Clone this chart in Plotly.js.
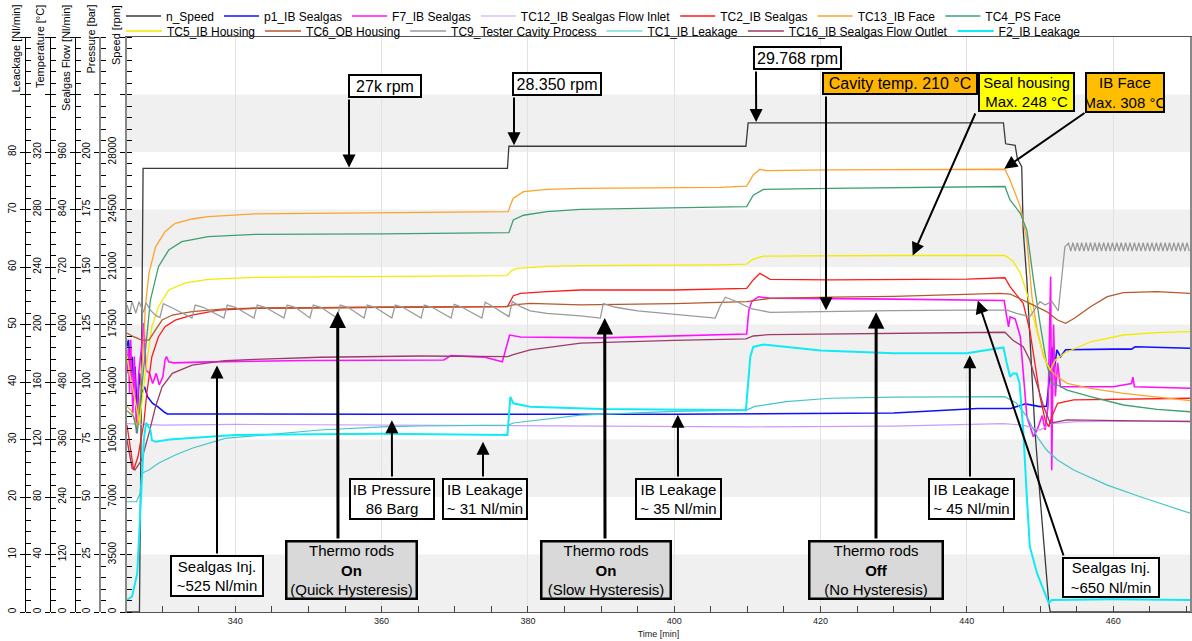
<!DOCTYPE html>
<html>
<head>
<meta charset="utf-8">
<script src="https://cdn.plot.ly/plotly-3.0.1.min.js"></script>
<style>
  html, body { margin: 0; padding: 0; background: #fff; }
  #chart { width: 1192px; height: 641px; }
</style>
</head>
<body>
<div id="chart"></div>
<script>
// ---------- measured series (time in min) ----------
const speedTime = [325.2, 326.9, 327.1, 327.4, 377.2, 377.4, 409.8, 410.1, 445.0, 445.3, 446.6, 446.9, 447.5, 447.7, 448.2, 448.65, 449.3, 450.0, 450.7, 451.2, 451.4, 470.5];
const speedRpm  = [0, 0, 10000, 27000, 27000, 28350, 28350, 29768, 29768, 28500, 28400, 27600, 27100, 23250, 20200, 16150, 11080, 7020, 2960, 530, 0, 0];

const p1Time = [325.2, 325.4, 325.55, 325.7, 325.9, 326.1, 326.3, 326.6, 326.9, 327.2, 327.6, 328.0, 328.7, 329.4, 330.2, 330.7, 360, 400, 430, 441.5, 446, 448, 450, 450.9, 451.3, 451.6, 451.9, 452.3, 452.8, 453.5, 460, 462.5, 463, 470.5];
const p1Bar  = [115.4, 118.3, 112.5, 103.8, 111, 100.9, 106.7, 84.9, 103.8, 95.1, 98, 93.6, 90.7, 89.3, 87.1, 86.1, 86, 86, 86.5, 88.5, 88.5, 90.5, 89.3, 89.5, 102, 115.3, 104, 114, 111, 114, 114.3, 114.3, 115.3, 114.7];

const f7Time = [325.2, 325.4, 325.55, 325.7, 326.0, 326.2, 326.5, 326.8, 327.2, 327.5, 327.8, 328.3, 328.7, 329.2, 329.6, 330.1, 330.4, 330.6, 330.9, 331.6, 336.3, 350, 368.5, 369.5, 374, 376.5, 377.5, 379, 390, 405, 409.9, 410.2, 410.6, 411.5, 413, 430, 445.1, 445.45, 445.7, 445.9, 446.6, 447.3, 447.7, 448.2, 449.1, 449.6, 450.3, 450.7, 451.1, 451.45, 451.6, 451.85, 452.1, 452.4, 452.8, 460, 462.5, 462.7, 462.9, 470.5];
const f7Flow = [498, 554, 456, 568, 415, 533, 373, 498, 554, 603, 505, 498, 477, 498, 474, 491, 526, 533, 522, 520, 522, 525, 526, 535, 532, 522, 578, 574, 572, 578, 580, 630, 648, 658, 655, 653, 650, 616, 595, 616, 612, 575, 505, 408, 366, 380, 410, 380, 430, 700, 296, 600, 450, 520, 470, 470, 477, 490, 470, 467];

const tc12Time = [325.2, 330, 340, 360, 377, 390, 410, 430, 445, 447.7, 450, 451.5, 455, 470.5];
const tc12Temp = [131, 130, 130.5, 130, 129.5, 129, 128.8, 129.3, 131, 130, 126.6, 131, 132.4, 133];

const tc2Time = [325.2, 325.9, 326.1, 326.7, 327.5, 327.9, 328.6, 329.5, 330.4, 331.8, 334.1, 337.7, 342.7, 360, 377.2, 378, 379, 382.6, 387.2, 400, 409.9, 410.8, 411.7, 413.1, 421.3, 440, 445.2, 445.9, 447.7, 448.6, 449.3, 450, 450.7, 451.2, 451.6, 452.4, 454.6, 470.5];
const tc2Temp = [130, 105.7, 98.8, 108, 131.3, 152, 177.6, 191.5, 198.5, 203, 206.6, 210, 211.3, 212, 212.4, 220, 221.7, 222.8, 224, 224, 225.2, 231, 235.6, 231.4, 231, 231.5, 232.5, 226.3, 214.7, 196, 173, 149.8, 133.6, 128.9, 135.9, 145.2, 147.5, 148.7];

const tc13Time = [325.2, 325.8, 326.6, 327.0, 327.5, 327.7, 328.2, 329.1, 330.4, 331.8, 334.1, 336.3, 342.7, 360, 377.3, 377.6, 378, 379.4, 382.6, 387.2, 406.3, 409.9, 410.8, 411.7, 412.6, 421.3, 440, 445.2, 445.9, 447.3, 448.2, 448.9, 449.6, 450.5, 451.4, 452.4, 453.7, 456.9, 461.4, 470.5];
const tc13Temp = [143, 140, 129, 152, 189, 212, 235.6, 254, 264.6, 270.4, 273.4, 275, 276.9, 277.6, 278.5, 283, 287.8, 292.4, 294, 294.7, 295.4, 296.3, 304, 308, 307, 307.5, 308, 308, 300.5, 282, 258.8, 219.3, 196, 177.6, 168.3, 163.7, 159, 155.6, 152.1, 147];

const tc4Time = [325.2, 326.1, 326.6, 327.7, 328.4, 329.5, 330.9, 332.7, 336.3, 342.7, 360, 377.4, 378, 379.4, 382.6, 387.2, 406.3, 409.9, 410.8, 412.2, 421.3, 440, 445.2, 445.9, 447.3, 448.2, 449.1, 450, 450.9, 451.6, 452.4, 453.7, 456.9, 461.4, 466, 470.5];
const tc4Temp = [140, 135.9, 124.3, 180, 217, 240.2, 251.8, 257.6, 261.1, 262.7, 263, 263.9, 272.7, 276, 278.5, 280.1, 281.5, 282, 290, 294, 294.7, 295.5, 296, 286.6, 277.4, 265.7, 231, 200.8, 173, 159, 157.9, 154.4, 149.8, 144, 141, 139.3];

const tc5Time = [325.2, 325.6, 326.2, 326.9, 327.7, 328.6, 329.5, 330.9, 333.2, 336.3, 342.7, 360, 377.1, 377.8, 378.5, 382.6, 387.2, 406.3, 409.9, 410.8, 412.2, 430, 445.2, 446.3, 447.3, 448.2, 449.1, 450, 450.9, 451.4, 452.1, 453.3, 456.9, 461.4, 466, 470.5];
const tc5Temp = [178, 165, 150, 131, 166, 198.5, 212.4, 224, 229, 231.4, 232.8, 233.4, 234, 237.5, 239, 240.5, 241, 241.5, 242, 245.5, 247.5, 248, 248, 244, 236, 222, 205, 187, 173, 168.3, 175.3, 180, 188, 192.7, 194.3, 195];

const tc6Time = [325.2, 326.1, 327.2, 328.2, 329.1, 330, 331.4, 334.1, 338.6, 342.7, 360, 377, 378, 380.3, 387.2, 400, 409.9, 413.1, 421.3, 430, 444.5, 445.9, 448.6, 450.9, 452.4, 453.5, 454.7, 456.9, 459.2, 461.4, 466, 470.5];
const tc6Temp = [194, 191.5, 189.2, 189.2, 196.2, 203.1, 206.6, 209, 210.8, 211.3, 212, 212.4, 213.6, 214.7, 213.6, 214.5, 215.9, 218.2, 219, 219.5, 221.7, 221.2, 214.7, 209, 203.1, 200.8, 204.3, 212.4, 219.4, 222.2, 222.8, 221.7];

const tc9Time = [325.2, 325.55, 325.9, 326.4, 326.85, 327.45, 327.8, 328.4, 329.2, 329.7,
  330.16, 331.2, 334.08, 334.53, 335.6, 338.45, 338.9, 340.0, 342.55, 343.0, 344.1, 346.65, 347.1, 348.2,
  350.2, 350.66, 351.7, 353.9, 354.35, 355.4, 357.6, 358.04, 359.1, 361.4, 361.87, 362.9, 365.4, 365.83, 366.9,
  369.5, 369.93, 371.0, 373.7, 374.17, 375.2, 377.4, 377.86, 379.0, 380.3, 382.6, 387.2, 389.9, 390.3, 392.0,
  395.0, 400.0, 405.6, 406.3, 407.0, 408.5, 410.5, 413.1, 421.3, 430.0, 440.0, 445.5, 446.8, 448.6, 450.0,
  450.7, 451.6, 452.5, 453.4, 453.9,
  454.2, 454.5, 454.8, 455.1, 455.4, 455.7, 456.0, 456.3, 456.6, 456.9, 457.2, 457.5, 457.8, 458.1, 458.4,
  458.7, 459.0, 459.3, 459.6, 459.9, 460.2, 460.5, 460.8, 461.1, 461.4, 461.7, 462.0, 462.3, 462.6, 462.9,
  463.2, 463.5, 463.8, 464.1, 464.4, 464.7, 465.0, 465.3, 465.6, 465.9, 466.2, 466.5, 466.8, 467.1, 467.4,
  467.7, 468.0, 468.3, 468.6, 468.9, 469.2, 469.5, 469.8, 470.1, 470.4];
const tc9Temp = [213.6, 207.8, 215.9, 207.8, 215.9, 208.5, 215.0, 210.0, 206.0, 205.0,
  214.5, 212, 204.5, 213.5, 212, 204.5, 213.5, 212, 204.5, 213.5, 212, 204.5, 213.5, 212,
  204.5, 213.5, 212, 204.5, 213.5, 212, 204.5, 213.5, 212, 204.5, 213.5, 212, 204.5, 213.5, 212,
  204.5, 214, 212, 204.5, 215.5, 212.5, 205.5, 215.9, 212.4, 209.5, 207.8, 206, 204.5, 214.5, 212,
  209.5, 207, 204.5, 213, 219, 216, 211, 208.5, 209.2, 209.6, 210, 210, 207.8, 205.4, 215.9,
  213.6, 216.3, 209.4, 254.1, 256.5,
  251, 257, 251, 257, 251, 257, 251, 257, 251, 257, 251, 257, 251, 257, 251,
  257, 251, 257, 251, 257, 251, 257, 251, 257, 251, 257, 251, 257, 251, 257,
  251, 257, 251, 257, 251, 257, 251, 257, 251, 257, 251, 257, 251, 257, 251,
  257, 251, 257, 251, 257, 251, 257, 251, 257, 251];

const tc1Time = [325.2, 326.5, 327.0, 327.2, 328.2, 329.5, 331.8, 334.1, 338.6, 342.7, 351.6, 360.7, 365.3, 377.3, 378, 387.2, 400, 409.9, 411, 415.3, 421.3, 430, 445.2, 446.8, 448.2, 449.6, 450.9, 452.4, 454.6, 459.2, 463.7, 470.5];
const tc1Temp = [76.7, 76.7, 82.6, 96.5, 98.8, 103.5, 109.2, 113.9, 120.8, 122.5, 126.6, 128.9, 129.4, 130, 131.5, 137, 139.5, 140.5, 143, 146.3, 148.7, 149.5, 149.8, 145.2, 135.9, 122, 112.7, 105.7, 98.8, 88.3, 80.2, 68.7];

const tc16Time = [325.2, 325.9, 326.3, 327.2, 328.2, 329.1, 330, 331.4, 334.1, 338.6, 342.7, 351.6, 365.3, 377.2, 378, 380.3, 387.2, 400, 409.8, 410.8, 413, 430, 445.2, 446.3, 447.7, 448.6, 449.6, 450.5, 451.4, 452.4, 453.7, 470.5];
const tc16Temp = [119.7, 100, 98.8, 105.7, 124.3, 142.8, 156.7, 166, 171.8, 174.8, 175.8, 177.2, 178.1, 177.6, 179, 182.3, 187, 189, 190, 192, 193, 193.9, 194.6, 189, 184.6, 175.3, 159, 142.8, 131.3, 132.4, 133.6, 132.4];

const f2Time = [325.2, 325.9, 326.6, 327.0, 327.5, 327.8, 328.4, 328.6, 329.1, 331, 340, 360, 377.2, 377.6, 378, 380.3, 390, 409.8, 410.4, 410.8, 412.2, 420, 430, 440, 445.0, 445.45, 445.9, 446.3, 446.8, 447.2, 447.7, 448.2, 448.6, 449.6, 450.5, 451.2, 451.6, 460, 470.5];
const f2Leak = [2.1, 2.7, 6.7, 18.3, 29.9, 32.9, 31.7, 29.9, 29.6, 30, 30.8, 31, 30.8, 37.4, 36.3, 35.7, 35.3, 35.1, 44.4, 46.1, 46.5, 45.5, 45, 45, 46, 43.3, 40.9, 41.5, 41.5, 39.8, 31.7, 20, 11.4, 6.7, 3.8, 1.5, 2.1, 2.2, 2.1];

// ---------- axis ticks ----------
const timeTicks = [340, 360, 380, 400, 420, 440, 460];
const speedTicks = [0, 3500, 7000, 10500, 14000, 17500, 21000, 24500, 28000, 31500, 35000];
const speedLabels = ['0', '3500', '7000', '10500', '14000', '17500', '21000', '24500', '28000', '', ''];
const pressureTicks = [0, 25, 50, 75, 100, 125, 150, 175, 200, 225, 250];
const pressureLabels = ['0', '25', '50', '75', '100', '125', '150', '175', '200', '', ''];
const flowTicks = [0, 120, 240, 360, 480, 600, 720, 840, 960, 1080, 1200];
const flowLabels = ['0', '120', '240', '360', '480', '600', '720', '840', '960', '', ''];
const tempTicks = [0, 40, 80, 120, 160, 200, 240, 280, 320, 360, 400];
const tempLabels = ['0', '40', '80', '120', '160', '200', '240', '280', '320', '', ''];
const leakTicks = [0, 10, 20, 30, 40, 50, 60, 70, 80, 90, 100];
const leakLabels = ['0', '10', '20', '30', '40', '50', '60', '70', '80', '', ''];

// ---------- geometry ----------
const W = 1192, H = 641;
const margin = { l: 0, r: 2, t: 37, b: 29 };
const plotW = W - margin.l - margin.r;       // 1190
const plotH = H - margin.t - margin.b;       // 575
const left = 127;                            // x pixel of the plotting area start
const xRange = [325.2, 470.5];
const pxX = p => p / plotW;
const pxY = p => 1 - (p - margin.t) / plotH;

const axisMax = { y: 35000, y2: 250, y3: 1200, y4: 400, y5: 100 };

// ---------- traces ----------
const series = [
  { name: 'n_Speed', x: speedTime, y: speedRpm, axis: 'y', color: '#3a3a3a', width: 1.3, legend: 'legend' },
  { name: 'p1_IB Sealgas', x: p1Time, y: p1Bar, axis: 'y2', color: '#1010ff', width: 1.6, legend: 'legend' },
  { name: 'F7_IB Sealgas', x: f7Time, y: f7Flow, axis: 'y3', color: '#ff10ff', width: 1.6, legend: 'legend' },
  { name: 'TC12_IB Sealgas Flow Inlet', x: tc12Time, y: tc12Temp, axis: 'y4', color: '#c99cff', width: 1.2, legend: 'legend' },
  { name: 'TC2_IB Sealgas', x: tc2Time, y: tc2Temp, axis: 'y4', color: '#ff1a1a', width: 1.3, legend: 'legend' },
  { name: 'TC13_IB Face', x: tc13Time, y: tc13Temp, axis: 'y4', color: '#ffa22a', width: 1.3, legend: 'legend' },
  { name: 'TC4_PS Face', x: tc4Time, y: tc4Temp, axis: 'y4', color: '#3f9f72', width: 1.3, legend: 'legend' },
  { name: 'TC5_IB Housing', x: tc5Time, y: tc5Temp, axis: 'y4', color: '#f2ea00', width: 1.3, legend: 'legend2' },
  { name: 'TC6_OB Housing', x: tc6Time, y: tc6Temp, axis: 'y4', color: '#b5592c', width: 1.3, legend: 'legend2' },
  { name: 'TC9_Tester Cavity Process', x: tc9Time, y: tc9Temp, axis: 'y4', color: '#9a9a9a', width: 1.3, legend: 'legend2' },
  { name: 'TC1_IB Leakage', x: tc1Time, y: tc1Temp, axis: 'y4', color: '#45c6c6', width: 1.2, legend: 'legend2' },
  { name: 'TC16_IB Sealgas Flow Outlet', x: tc16Time, y: tc16Temp, axis: 'y4', color: '#9b3b68', width: 1.3, legend: 'legend2' },
  { name: 'F2_IB Leakage', x: f2Time, y: f2Leak, axis: 'y5', color: '#10eaf5', width: 2.0, legend: 'legend2' }
];

const traces = series.map(s => ({
  type: 'scatter', mode: 'lines', name: s.name, x: s.x, y: s.y, yaxis: s.axis,
  line: { color: s.color, width: s.width }, legend: s.legend, hoverinfo: 'skip'
}));

// ---------- annotations ----------
const boxFont = { family: 'Liberation Sans, Arial, sans-serif', size: 16, color: '#000' };
const rodFont = { family: 'Liberation Sans, Arial, sans-serif', size: 15, color: '#000' };

function box(text, l, t, r, b, bg, bw, font) {
  return {
    xref: 'paper', yref: 'paper', x: pxX(l), y: pxY(t), xanchor: 'left', yanchor: 'top',
    text: text, showarrow: false, bgcolor: bg, bordercolor: '#000', borderwidth: bw, borderpad: 0,
    width: r - l - 2 * bw, height: b - t - 2 * bw, font: font || boxFont, align: 'center', valign: 'middle'
  };
}

function pointer(t, v, axis, tailX, tailY, w, standoff) {
  const tipX = left + (t - xRange[0]) / (xRange[1] - xRange[0]) * (plotW - left);
  const tipY = margin.t + plotH - v / axisMax[axis] * plotH;
  return {
    xref: 'x', yref: axis, x: t, y: v, ax: tailX - tipX, ay: tailY - tipY, text: '',
    showarrow: true, arrowhead: 2, arrowsize: w > 2 ? 1.1 : 1.3, arrowwidth: w, arrowcolor: '#000',
    standoff: standoff || 0
  };
}

const titleFont = { family: 'Liberation Sans, Arial, sans-serif', size: 11, color: '#000' };
function axisTitle(text, x) {
  return { xref: 'paper', yref: 'paper', x: pxX(x), y: pxY(3), xanchor: 'center', yanchor: 'top',
    textangle: -90, text: text, showarrow: false, font: titleFont };
}

const annotations = [
  axisTitle('Leackage [Nl/min]', 15.5),
  axisTitle('Temperature [°C]', 40.5),
  axisTitle('Sealgas Flow [Nl/min]', 66),
  axisTitle('Pressure [bar]', 91),
  axisTitle('Speed [rpm]', 116),

  pointer(355.55, 27000, 'y', 349, 98, 2, 1),
  box('27k rpm', 348, 74, 422, 98, '#fff', 2),
  pointer(378.1, 28350, 'y', 514, 96, 2, 1),
  box('28.350 rpm', 512, 72, 602, 96, '#fff', 2),
  pointer(411.2, 29768, 'y', 756, 70, 2, 1),
  box('29.768 rpm', 753, 46, 842, 70, '#fff', 2),
  pointer(420.75, 210, 'y4', 826, 95, 2, 0),
  box('Cavity temp. 210 °C', 822, 72, 978, 95, '#ffb400', 2),
  pointer(432.6, 248, 'y4', 976, 112, 2, 0),
  box('Seal housing<br>Max. 248 °C', 978, 72, 1075, 112, '#ffff00', 2, rodFont),
  pointer(445.0, 308, 'y4', 1086, 112, 2, 1),
  box('IB Face<br>Max. 308 °C', 1085, 72, 1165, 113, '#ffbf00', 2, rodFont),

  pointer(361.4, 86, 'y2', 392, 478, 2, 6),
  box('IB Pressure<br>86 Barg', 349, 478, 435, 520, '#fff', 2, rodFont),
  pointer(373.86, 31, 'y5', 483, 478, 2, 8),
  box('IB Leakage<br>~ 31 Nl/min', 442, 478, 528, 520, '#fff', 2, rodFont),
  pointer(400.5, 35, 'y5', 678, 478, 2, 4),
  box('IB Leakage<br>~ 35 Nl/min', 635, 478, 722, 520, '#fff', 2, rodFont),
  pointer(440.4, 45, 'y5', 970, 478, 2, 2),
  box('IB Leakage<br>~ 45 Nl/min', 928, 478, 1015, 520, '#fff', 2, rodFont),
  pointer(337.5, 525, 'y3', 217, 555, 2, 5),
  box('Sealgas Inj.<br>~525 Nl/min', 170, 555, 264, 597, '#fff', 2, rodFont),

  pointer(354.0, 209, 'y4', 338, 540, 3, 0),
  box('Thermo rods<br><b>On</b><br>(Quick Hysteresis)', 285, 540, 418, 600, '#d9d9d9', 2.5, rodFont),
  pointer(390.5, 204.5, 'y4', 605, 540, 3, 0),
  box('Thermo rods<br><b>On</b><br>(Slow Hysteresis)', 540, 540, 672, 600, '#d9d9d9', 2.5, rodFont),
  pointer(427.6, 210, 'y4', 876, 540, 3, 2),
  box('Thermo rods<br><b>Off</b><br>(No Hysteresis)', 808, 540, 944, 600, '#d9d9d9', 2.5, rodFont),
  pointer(441.5, 650, 'y3', 1064, 557, 2, 0),
  box('Sealgas Inj.<br>~650 Nl/min', 1062, 557, 1160, 598, '#fff', 2, rodFont)
];

// ---------- background bands (alternating speed decades) ----------
const shapes = [];
for (let i = 0; i + 1 < speedTicks.length; i += 2) {
  shapes.push({ type: 'rect', xref: 'x domain', yref: 'y', x0: 0, x1: 1,
    y0: speedTicks[i], y1: speedTicks[i + 1], fillcolor: '#f0f0f0', line: { width: 0 }, layer: 'below' });
}

// ---------- axes ----------
const tickFont = { family: 'Liberation Sans, Arial, sans-serif', size: 10, color: '#000' };
function valueAxis(range, ticks, labels, minorStep, pos, lineColor, lineWidth) {
  const ax = {
    range: range, tickmode: 'array', tickvals: ticks, ticktext: labels, tickangle: -90,
    ticks: 'outside', ticklen: 5, tickcolor: '#000', tickfont: tickFont,
    showline: true, linecolor: lineColor, linewidth: lineWidth,
    showgrid: false, zeroline: false, fixedrange: true,
    minor: { tickmode: 'linear', tick0: 0, dtick: minorStep, ticks: 'inside', ticklen: 5, tickcolor: '#000', showgrid: false }
  };
  if (pos !== null) {
    ax.overlaying = 'y'; ax.anchor = 'free'; ax.side = 'left'; ax.position = pxX(pos);
  }
  return ax;
}

const yaxis = valueAxis([0, 35000], speedTicks, speedLabels, 700, null, '#888', 2);
yaxis.anchor = 'x';
yaxis.mirror = true;

const legendFont = { family: 'Liberation Sans, Arial, sans-serif', size: 12, color: '#000' };

const layout = {
  width: W, height: H, margin: margin,
  paper_bgcolor: '#fff', plot_bgcolor: '#fff',
  font: { family: 'Liberation Sans, Arial, sans-serif', color: '#000' },
  showlegend: true,
  xaxis: {
    domain: [pxX(left), 1], range: xRange, tickmode: 'array', tickvals: timeTicks,
    ticks: 'inside', ticklen: 6, tickcolor: '#444',
    tickfont: { family: 'Liberation Sans, Arial, sans-serif', size: 9, color: '#222' },
    showgrid: true, gridcolor: '#e2e2e2', gridwidth: 1, zeroline: false,
    showline: true, linecolor: '#555', linewidth: 1, mirror: true,
    minor: { tickmode: 'linear', tick0: 0, dtick: 5, ticks: 'inside', ticklen: 6, tickcolor: '#444', showgrid: false },
    title: { text: 'Time [min]', font: { family: 'Liberation Sans, Arial, sans-serif', size: 9, color: '#222' }, standoff: 5 }
  },
  yaxis: yaxis,
  yaxis2: valueAxis([0, 250], pressureTicks, pressureLabels, 5, 100, '#888', 2),
  yaxis3: valueAxis([0, 1200], flowTicks, flowLabels, 24, 75, '#000', 1.2),
  yaxis4: valueAxis([0, 400], tempTicks, tempLabels, 8, 50, '#000', 1.2),
  yaxis5: valueAxis([0, 100], leakTicks, leakLabels, 2, 25, '#000', 1.2),
  legend: {
    orientation: 'h', x: pxX(121), y: 1 + (margin.t - 16) / plotH, xanchor: 'left', yanchor: 'middle',
    font: legendFont, bgcolor: 'rgba(0,0,0,0)', borderwidth: 0, itemwidth: 35
  },
  legend2: {
    orientation: 'h', x: pxX(121), y: 1 + (margin.t - 31) / plotH, xanchor: 'left', yanchor: 'middle',
    font: legendFont, bgcolor: 'rgba(0,0,0,0)', borderwidth: 0, itemwidth: 36
  },
  shapes: shapes,
  annotations: annotations
};

Plotly.newPlot('chart', traces, layout, { staticPlot: true, displayModeBar: false });
</script>
</body>
</html>
